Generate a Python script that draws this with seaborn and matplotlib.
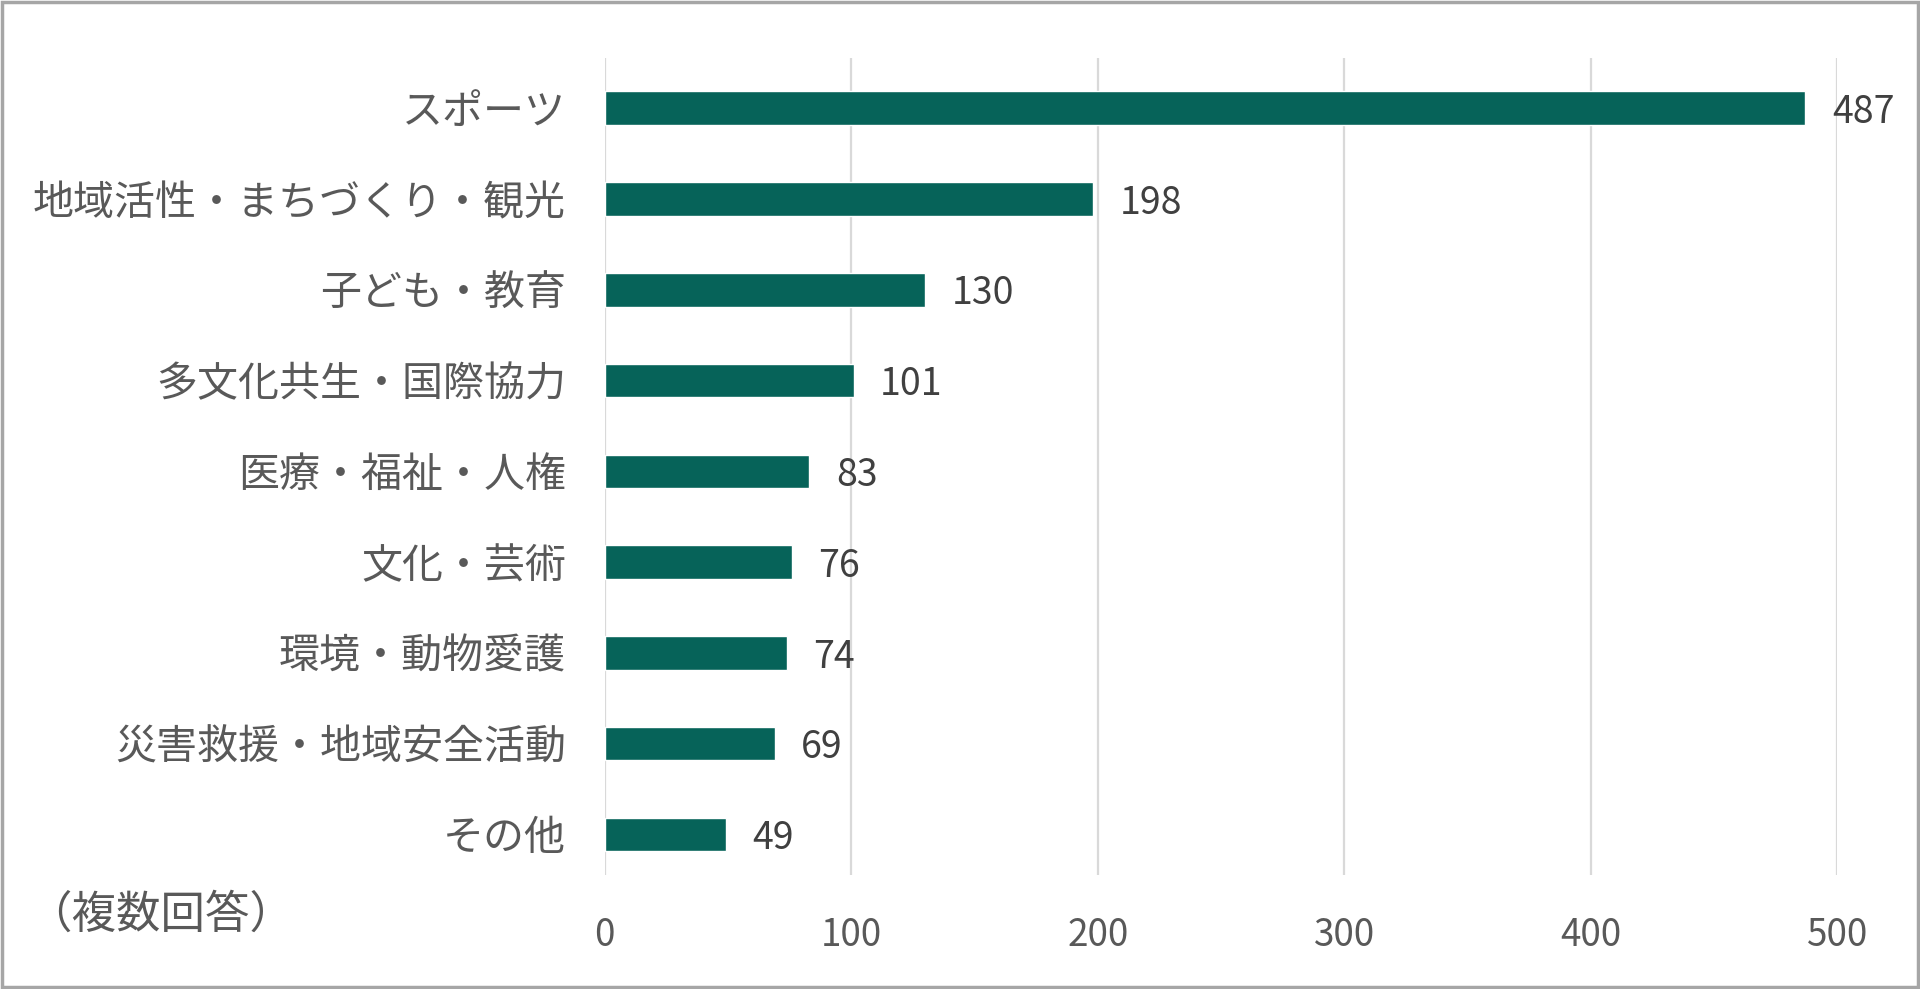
import numpy as np
import pandas as pd
import matplotlib
matplotlib.use("Agg")
import matplotlib.pyplot as plt
import seaborn as sns
from matplotlib.patches import Rectangle

# data
categories = ["スポーツ", "地域活性・まちづくり・観光", "子ども・教育", "多文化共生・国際協力",
              "医療・福祉・人権", "文化・芸術", "環境・動物愛護", "災害救援・地域安全活動", "その他"]
counts = [487, 198, 130, 101, 83, 76, 74, 69, 49]
xticks = [0, 100, 200, 300, 400, 500]

df = pd.DataFrame({"category": categories, "count": counts})

sns.set_style("white")
plt.rcParams["font.family"] = ["Noto Sans CJK JP", "DejaVu Sans"]

fig = plt.figure(figsize=(19.2, 9.89), dpi=100)
ax = fig.add_axes([0.315, 0.115, 0.957 - 0.315, 0.941 - 0.115])

sns.barplot(data=df, x="count", y="category", orient="h", color="#066359",
            width=0.37, saturation=1, ax=ax, zorder=3)

ax.set_xlim(0, 500)
ax.set_ylim(8.45, -0.55)
ax.set_xticks(xticks)
ax.set_xticklabels([str(t) for t in xticks])
ax.xaxis.grid(True, color="#D9D9D9", linewidth=1.6, zorder=0)
ax.yaxis.grid(False)
for s in ax.spines.values():
    s.set_visible(False)
ax.tick_params(axis="x", length=0, pad=29, labelsize=26.5, labelcolor="#595959")
ax.tick_params(axis="y", length=0, pad=28, labelsize=29.5, labelcolor="#595959")
ax.set_xlabel("")
ax.set_ylabel("")

# value labels
for i, v in enumerate(counts):
    ax.annotate(str(v), (v, i), xytext=(19, -3), textcoords="offset points",
                ha="left", va="center", fontsize=27, color="#404040")

fig.text(0.014, 0.075, "（複数回答）", fontsize=32, color="#595959", ha="left", va="center")

# outer frame
fig.patches.append(Rectangle((0.001, 0.002), 0.998, 0.996, transform=fig.transFigure,
                             fill=False, edgecolor="#A6A6A6", linewidth=2.5))

fig.savefig("out.png", dpi=100)
